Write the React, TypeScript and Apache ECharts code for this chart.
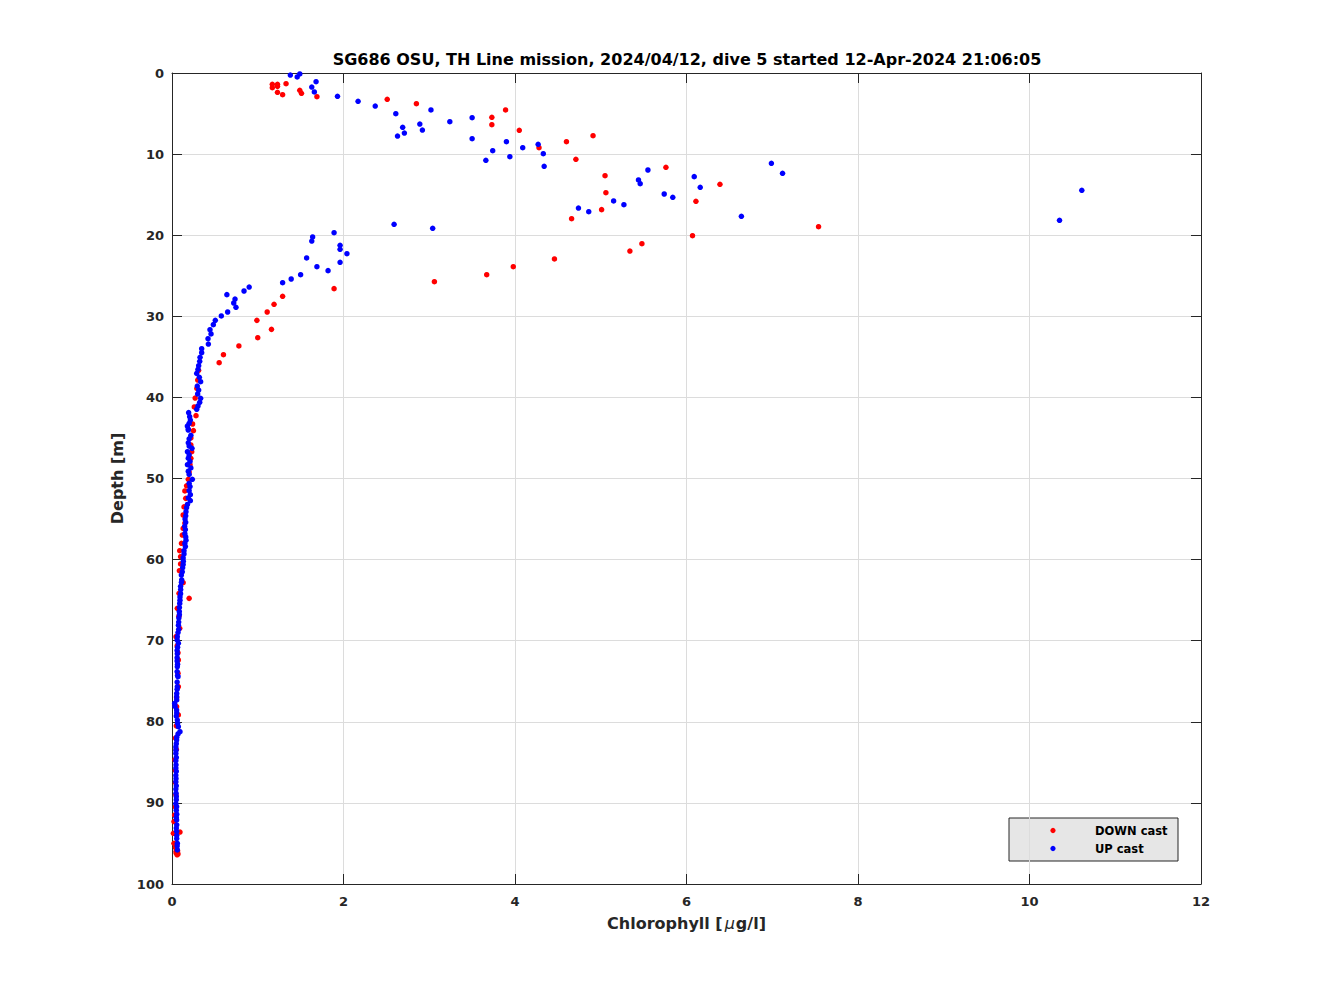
import React, { useEffect, useRef } from "react";
import * as echarts from "echarts";

const TITLE = "SG686 OSU, TH Line mission, 2024/04/12, dive 5 started 12-Apr-2024 21:06:05";
const X_NAME = "{a|Chlorophyll [}{m|μ}{a|g/l]}";
const Y_NAME = "Depth [m]";
const SERIES_NAMES = ["DOWN cast", "UP cast"];
const X_TICKS = [0, 2, 4, 6, 8, 10, 12];
const Y_TICKS = [0, 10, 20, 30, 40, 50, 60, 70, 80, 90, 100];

// [chlorophyll, depth]
const downCast: number[][] = [
  [1.17, 1.39], [1.17, 1.81], [1.23, 1.39], [1.23, 1.64], [1.33, 1.32], [1.23, 2.38], [1.29, 2.68],
  [1.49, 2.13], [1.51, 2.5], [1.69, 2.92],
  [2.51, 3.24], [2.85, 3.79], [3.73, 5.46], [3.73, 6.37], [3.89, 4.56], [4.05, 7.07], [4.28, 9.21],
  [4.6, 8.47], [4.71, 10.64], [4.91, 7.73], [5.05, 12.66], [5.06, 14.76], [5.01, 16.85], [4.66, 17.96],
  [5.76, 11.63], [6.11, 15.82], [6.07, 20.06], [6.39, 13.72], [7.54, 18.95], [5.34, 21.95], [5.48, 21.05],
  [4.46, 22.93], [3.98, 23.88], [3.67, 24.87], [3.06, 25.73], [1.89, 26.59],
  [1.29, 27.53], [1.19, 28.52], [1.11, 29.47], [0.99, 30.5], [1.16, 31.61], [1.0, 32.64],
  [0.78, 33.66], [0.6, 34.73], [0.55, 35.72], [0.31, 36.66], [0.3, 37.86], [0.29, 38.9],
  [0.27, 40.08], [0.26, 41.18], [0.28, 42.25], [0.24, 43.28], [0.25, 44.1], [0.22, 45.0],
  [0.22, 45.87], [0.23, 46.7], [0.22, 47.51], [0.21, 48.29], [0.2, 49.2], [0.19, 50.1],
  [0.17, 50.9], [0.15, 51.54], [0.16, 52.45], [0.14, 53.5], [0.13, 54.5], [0.15, 55.5],
  [0.13, 56.15], [0.12, 56.97], [0.11, 57.99], [0.09, 58.9], [0.1, 59.64], [0.1, 60.54],
  [0.086, 61.37], [0.13, 62.85], [0.082, 64.16], [0.2, 64.78], [0.062, 66.01], [0.08, 67.0],
  [0.09, 68.48], [0.047, 69.5], [0.06, 70.65], [0.07, 71.5], [0.074, 72.38], [0.07, 74.0],
  [0.074, 75.67], [0.054, 77.0], [0.054, 78.13], [0.074, 79.16], [0.05, 80.5], [0.04, 82.0],
  [0.05, 83.4], [0.035, 84.7], [0.04, 86.0], [0.04, 87.5], [0.045, 89.0], [0.04, 90.5],
  [0.03, 91.5], [0.023, 92.3], [0.016, 93.75], [0.093, 93.6], [0.023, 94.98], [0.04, 95.5],
  [0.047, 96.0], [0.06, 96.4], [0.07, 96.3], [0.05, 96.2], [0.065, 95.9],
];

const upCast: number[][] = [
  [1.38, 0.25], [1.46, 0.49], [1.49, 0.12], [1.63, 1.73], [1.66, 2.34], [1.68, 1.07], [1.93, 2.87],
  [2.17, 3.49], [2.37, 4.07], [2.61, 5.02], [2.69, 6.7], [2.63, 7.77], [2.71, 7.4], [2.89, 6.29],
  [2.92, 7.03], [3.02, 4.56], [3.24, 6.0], [3.5, 5.51], [3.5, 8.1], [3.66, 10.77], [3.74, 9.58],
  [3.9, 8.47], [3.94, 10.32], [4.09, 9.21], [4.27, 8.79], [4.33, 9.95], [4.34, 11.5],
  [4.74, 16.65], [4.86, 17.1], [5.15, 15.78], [5.27, 16.24], [5.44, 13.19], [5.46, 13.65],
  [5.55, 11.96], [5.74, 14.92], [5.84, 15.33], [6.09, 12.78], [6.16, 14.09], [6.64, 17.67],
  [6.99, 11.14], [7.12, 12.37], [10.35, 18.16], [10.61, 14.46],
  [2.59, 18.66], [3.04, 19.15],
  [1.89, 19.69], [1.64, 20.22], [1.63, 20.72], [1.96, 21.25], [1.96, 21.74], [2.04, 22.28],
  [1.57, 22.81], [1.69, 23.88], [1.82, 24.37], [1.96, 23.34], [1.5, 24.87], [1.39, 25.4],
  [1.29, 25.86], [0.9, 26.39], [0.84, 26.88], [0.64, 27.33], [0.735, 27.87], [0.72, 28.36],
  [0.746, 28.89], [0.649, 29.47], [0.575, 29.96], [0.505, 30.5], [0.482, 31.03], [0.443, 31.65],
  [0.455, 32.18], [0.42, 32.76], [0.424, 33.42], [0.346, 33.99], [0.346, 34.48], [0.327, 35.06],
  [0.323, 35.55], [0.311, 36.09], [0.303, 36.54], [0.288, 37.04], [0.319, 37.52], [0.334, 38.06],
  [0.295, 38.6], [0.311, 39.09], [0.299, 39.58], [0.334, 40.12], [0.323, 40.61], [0.303, 41.06],
  [0.288, 41.47], [0.194, 41.88], [0.206, 42.38], [0.214, 42.79], [0.2, 43.2], [0.179, 43.53],
  [0.19, 43.9], [0.19, 44.02], [0.22, 44.68], [0.2, 45.1], [0.19, 45.6], [0.2, 46.0],
  [0.233, 46.28], [0.18, 46.69], [0.2, 47.1], [0.19, 47.5], [0.21, 47.9], [0.18, 48.3],
  [0.22, 48.7], [0.19, 49.1], [0.2, 49.5], [0.237, 50.1], [0.2, 50.6], [0.21, 51.0],
  [0.2, 51.5], [0.214, 52.0], [0.19, 52.4], [0.214, 52.73], [0.18, 53.2], [0.17, 53.6],
  [0.163, 54.1], [0.16, 54.6], [0.152, 55.0], [0.16, 55.4], [0.148, 55.9], [0.156, 56.3],
  [0.15, 56.8], [0.16, 57.2], [0.163, 57.6], [0.15, 58.0], [0.156, 58.4], [0.14, 58.9],
  [0.14, 59.3], [0.13, 59.8], [0.132, 60.2], [0.13, 60.6], [0.124, 61.0], [0.12, 61.5],
  [0.109, 61.9], [0.113, 62.5], [0.11, 62.8], [0.1, 63.3], [0.101, 63.7], [0.1, 64.2],
  [0.093, 64.6], [0.093, 65.0], [0.09, 65.4], [0.086, 65.9], [0.085, 66.4], [0.086, 66.8],
  [0.08, 67.2], [0.078, 67.7], [0.075, 68.1], [0.078, 68.6], [0.07, 69.0], [0.062, 69.5],
  [0.06, 69.9], [0.074, 70.3], [0.065, 70.8], [0.06, 71.2], [0.062, 71.6], [0.06, 72.1],
  [0.06, 72.5], [0.065, 72.9], [0.062, 73.2], [0.06, 73.8], [0.065, 74.3], [0.07, 74.44],
  [0.06, 75.1], [0.062, 75.67], [0.06, 76.0], [0.055, 76.5], [0.054, 76.9], [0.055, 77.3],
  [0.031, 77.73], [0.035, 78.1], [0.054, 78.55], [0.055, 78.9], [0.05, 79.3], [0.062, 79.79],
  [0.065, 80.2], [0.074, 80.6], [0.093, 81.22], [0.07, 81.5], [0.055, 81.9], [0.054, 82.25],
  [0.05, 82.7], [0.045, 83.1], [0.047, 83.5], [0.045, 83.9], [0.05, 84.4], [0.045, 84.8],
  [0.047, 85.3], [0.045, 85.7], [0.05, 86.1], [0.045, 86.6], [0.047, 87.0], [0.045, 87.4],
  [0.05, 87.9], [0.045, 88.3], [0.047, 88.8], [0.05, 89.2], [0.05, 89.6], [0.045, 90.1],
  [0.054, 90.47], [0.05, 90.9], [0.055, 91.4], [0.05, 91.8], [0.054, 92.1], [0.055, 92.7],
  [0.05, 93.1], [0.054, 93.5], [0.055, 94.0], [0.055, 94.4], [0.062, 94.98], [0.06, 95.3],
  [0.062, 95.8],
];

const FONT = "DejaVu Sans";
const AXIS_COLOR = "#262626";
const GRID_COLOR = "#dcdcdc";
const COLORS = ["#ff0000", "#0000ff"];

export default function App() {
  const ref = useRef<HTMLDivElement>(null);
  useEffect(() => {
    if (!ref.current) return;
    const chart = echarts.init(ref.current, null, { renderer: "svg" });
    const xMin = X_TICKS[0];
    const xMax = X_TICKS[X_TICKS.length - 1];
    const yMin = Y_TICKS[0];
    const yMax = Y_TICKS[Y_TICKS.length - 1];
    const labelStyle = { color: AXIS_COLOR, fontWeight: "bold" as const, fontSize: 13, fontFamily: FONT };
    const nameStyle = { fontFamily: FONT, fontWeight: "bold" as const, fontSize: 16, color: AXIS_COLOR };

    // legend box (drawn as graphic to match the reference layout)
    const legendX = 1009;
    const legendY = 818;
    const legendGraphic = {
      type: "group",
      children: [
        {
          type: "rect",
          shape: { x: legendX, y: legendY, width: 169, height: 43 },
          style: { fill: "#e6e6e6", stroke: AXIS_COLOR, lineWidth: 1 },
        },
        ...SERIES_NAMES.flatMap((n, i) => [
          {
            type: "circle",
            shape: { cx: legendX + 44, cy: legendY + 12.5 + i * 18, r: 2.6 },
            style: { fill: COLORS[i] },
          },
          {
            type: "text",
            x: legendX + 86,
            y: legendY + 12.5 + i * 18,
            style: {
              text: n,
              fontFamily: FONT,
              fontWeight: "bold",
              fontSize: 11.5,
              fill: "#000000",
              verticalAlign: "middle",
              align: "left",
            },
          },
        ]),
      ],
    };

    chart.setOption({
      animation: false,
      backgroundColor: "#ffffff",
      textStyle: { fontFamily: FONT },
      title: {
        text: TITLE,
        left: 682,
        top: 46,
        textAlign: "center",
        textStyle: { fontFamily: FONT, fontWeight: "bold", fontSize: 16, color: "#000000" },
      },
      grid: { left: 172, right: 127, top: 73, bottom: 112, containLabel: false },
      legend: { show: false, data: SERIES_NAMES },
      graphic: [legendGraphic],
      xAxis: [
        {
          type: "value",
          position: "bottom",
          min: xMin,
          max: xMax,
          interval: 2,
          name: X_NAME,
          nameLocation: "middle",
          nameGap: 31,
          nameTextStyle: {
            ...nameStyle,
            rich: {
              a: { ...nameStyle },
              m: { ...nameStyle, fontStyle: "italic", fontWeight: "normal", padding: [0, 1, 0, 2] },
            },
          },
          axisLine: { show: true, onZero: false, lineStyle: { color: AXIS_COLOR, width: 1 } },
          axisTick: { show: true, inside: true, length: 10, lineStyle: { color: AXIS_COLOR } },
          axisLabel: { ...labelStyle, margin: 11 },
          splitLine: { show: true, lineStyle: { color: GRID_COLOR, width: 1 } },
        },
        {
          type: "value",
          position: "top",
          min: xMin,
          max: xMax,
          interval: 2,
          axisLine: { show: true, onZero: false, lineStyle: { color: AXIS_COLOR, width: 1 } },
          axisTick: { show: true, inside: true, length: 10, lineStyle: { color: AXIS_COLOR } },
          axisLabel: { show: false },
          splitLine: { show: false },
        },
      ],
      yAxis: [
        {
          type: "value",
          position: "left",
          inverse: true,
          min: yMin,
          max: yMax,
          interval: 10,
          name: Y_NAME,
          nameLocation: "middle",
          nameGap: 44,
          nameTextStyle: nameStyle,
          axisLine: { show: true, onZero: false, lineStyle: { color: AXIS_COLOR, width: 1 } },
          axisTick: { show: true, inside: true, length: 10, lineStyle: { color: AXIS_COLOR } },
          axisLabel: { ...labelStyle, margin: 8 },
          splitLine: { show: true, lineStyle: { color: GRID_COLOR, width: 1 } },
        },
        {
          type: "value",
          position: "right",
          inverse: true,
          min: yMin,
          max: yMax,
          interval: 10,
          axisLine: { show: true, onZero: false, lineStyle: { color: AXIS_COLOR, width: 1 } },
          axisTick: { show: true, inside: true, length: 10, lineStyle: { color: AXIS_COLOR } },
          axisLabel: { show: false },
          splitLine: { show: false },
        },
      ],
      series: [
        {
          name: SERIES_NAMES[0],
          type: "scatter",
          xAxisIndex: 0,
          yAxisIndex: 0,
          data: downCast,
          symbol: "circle",
          symbolSize: 5.5,
          itemStyle: { color: COLORS[0], opacity: 1 },
          emphasis: { disabled: true },
        },
        {
          name: SERIES_NAMES[1],
          type: "scatter",
          xAxisIndex: 0,
          yAxisIndex: 0,
          data: upCast,
          symbol: "circle",
          symbolSize: 5.5,
          itemStyle: { color: COLORS[1], opacity: 1 },
          emphasis: { disabled: true },
        },
      ],
    });
    return () => chart.dispose();
  }, []);
  return (
    <div
      ref={ref}
      style={{ position: "fixed", left: 0, top: 0, width: 1328, height: 996, background: "#ffffff" }}
    />
  );
}
